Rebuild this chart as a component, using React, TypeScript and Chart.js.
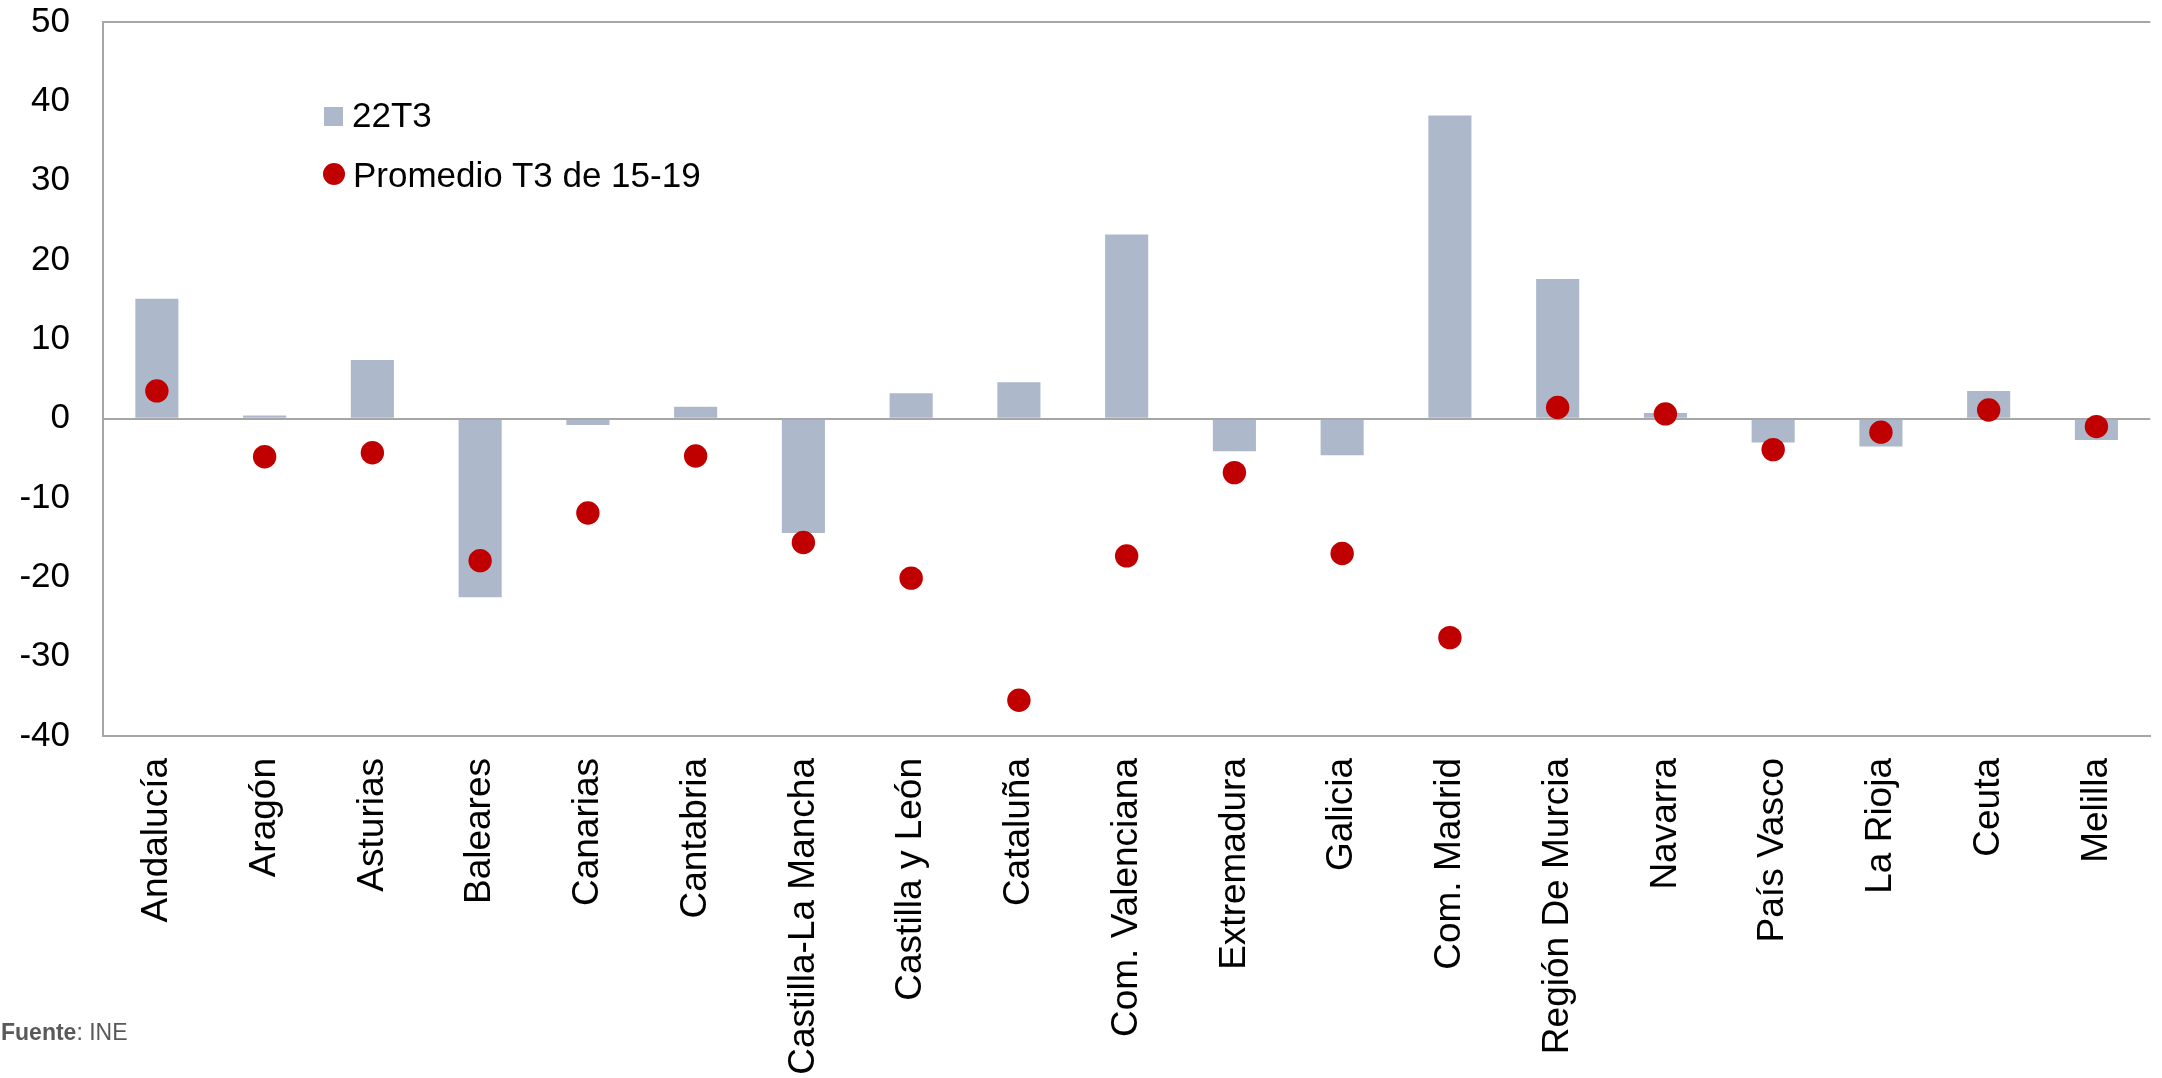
import React, { useEffect, useRef } from "react";
import { Chart, registerables } from "chart.js";

Chart.register(...registerables);

const categories = [
  "Andalucía",
  "Aragón",
  "Asturias",
  "Baleares",
  "Canarias",
  "Cantabria",
  "Castilla-La Mancha",
  "Castilla y León",
  "Cataluña",
  "Com. Valenciana",
  "Extremadura",
  "Galicia",
  "Com. Madrid",
  "Región De Murcia",
  "Navarra",
  "País Vasco",
  "La Rioja",
  "Ceuta",
  "Melilla",
];

const barLabel = "22T3";
const barValues = [15.1, 0.4, 7.4, -22.5, -0.8, 1.5, -14.4, 3.2, 4.6, 23.2, -4.1, -4.6, 38.2, 17.6, 0.7, -3.0, -3.5, 3.5, -2.7];

const dotLabel = "Promedio T3 de 15-19";
const dotValues = [3.5, -4.8, -4.3, -17.9, -11.9, -4.7, -15.6, -20.1, -35.5, -17.3, -6.8, -17.0, -27.6, 1.4, 0.6, -3.9, -1.7, 1.1, -1.0];

const yMin = -40;
const yMax = 50;
const yStep = 10;

const BAR_COLOR = "#ADB9CA";
const DOT_COLOR = "#C00000";
const AXIS_COLOR = "#A6A6A6";
const FONT = "'Liberation Sans', Arial, sans-serif";

const W = 2162;
const H = 1078;

export default function App() {
  const canvasRef = useRef<HTMLCanvasElement | null>(null);

  useEffect(() => {
    const canvas = canvasRef.current;
    if (!canvas) return;
    const chart = new Chart(canvas, {
      type: "bar",
      data: {
        labels: categories,
        datasets: [
          {
            type: "line",
            label: dotLabel,
            data: dotValues,
            showLine: false,
            pointRadius: 11.7,
            pointHoverRadius: 11.7,
            pointBackgroundColor: DOT_COLOR,
            pointBorderWidth: 0,
            borderColor: DOT_COLOR,
            backgroundColor: DOT_COLOR,
            order: 0,
          } as any,
          {
            type: "bar",
            label: barLabel,
            data: barValues,
            backgroundColor: BAR_COLOR,
            borderWidth: 0,
            barPercentage: 0.4,
            categoryPercentage: 1.0,
            order: 1,
          } as any,
        ],
      },
      options: {
        animation: false,
        responsive: false,
        maintainAspectRatio: false,
        devicePixelRatio: 1,
        layout: { padding: { top: 22, left: 0, right: 0, bottom: 0 } },
        plugins: {
          legend: { display: false },
          tooltip: { enabled: false },
        },
        scales: {
          x: {
            offset: true,
            grid: { display: false, drawTicks: false },
            border: { display: true, color: AXIS_COLOR, width: 2 },
            ticks: {
              autoSkip: false,
              maxRotation: 90,
              minRotation: 90,
              padding: 22,
              color: "#000",
              font: { family: FONT, size: 37 },
            },
            afterFit: (scale: any) => {
              scale.height = 342;
              scale.paddingLeft = 0;
              scale.paddingRight = 0;
              scale.paddingTop = 0;
              scale.paddingBottom = 0;
            },
          },
          y: {
            min: yMin,
            max: yMax,
            ticks: {
              stepSize: yStep,
              padding: 33,
              color: "#000",
              font: { family: FONT, size: 35 },
            },
            grid: {
              drawTicks: false,
              lineWidth: 2,
              color: (ctx: any) => {
                const v = ctx.tick ? ctx.tick.value : null;
                return v === yMax || v === 0 ? AXIS_COLOR : "rgba(0,0,0,0)";
              },
            },
            border: { display: true, color: AXIS_COLOR, width: 2 },
            afterFit: (scale: any) => {
              scale.width = 103;
              scale.paddingTop = 0;
              scale.paddingBottom = 0;
              scale.paddingLeft = 0;
              scale.paddingRight = 0;
            },
          },
        },
      },
    });
    return () => chart.destroy();
  }, []);

  const legendText: React.CSSProperties = {
    position: "absolute",
    fontFamily: FONT,
    fontSize: 35,
    lineHeight: "35px",
    color: "#000",
    whiteSpace: "nowrap",
  };

  return (
    <div
      style={{
        position: "absolute",
        left: 0,
        top: 0,
        width: W,
        height: H,
        background: "#fff",
        overflow: "hidden",
      }}
    >
      <canvas ref={canvasRef} width={W} height={H} style={{ position: "absolute", left: 0, top: 0, width: W, height: H }} />
      <div
        style={{
          position: "absolute",
          left: 324,
          top: 107,
          width: 19,
          height: 19,
          background: BAR_COLOR,
        }}
      />
      <div style={{ ...legendText, left: 352, top: 97 }}>{barLabel}</div>
      <div
        style={{
          position: "absolute",
          left: 323,
          top: 163,
          width: 22,
          height: 22,
          borderRadius: "50%",
          background: DOT_COLOR,
        }}
      />
      <div style={{ ...legendText, left: 353, top: 157 }}>{dotLabel}</div>
      <div
        style={{
          position: "absolute",
          left: 1,
          top: 1021,
          fontFamily: FONT,
          fontSize: 23,
          lineHeight: "23px",
          color: "#595959",
          whiteSpace: "nowrap",
        }}
      >
        <b>Fuente</b>: INE
      </div>
    </div>
  );
}
